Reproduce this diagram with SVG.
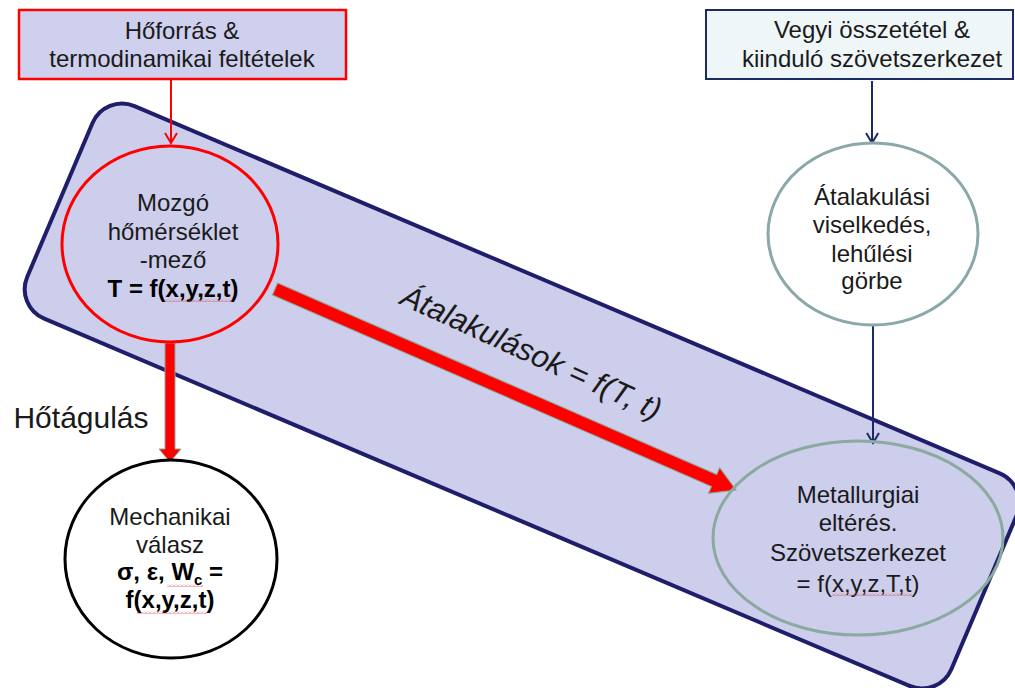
<svg xmlns="http://www.w3.org/2000/svg" width="1015" height="688" viewBox="0 0 1015 688">
<defs>
<style>
text{font-family:"Liberation Sans",Arial,sans-serif;fill:#1a1a1a;text-anchor:middle}
.t24{font-size:24px}
.b{font-weight:bold;fill:#000}
.thin{fill:none;stroke-width:2}
.red{stroke:#ff0000}
.navy{stroke:#1a2a66}
</style>
<marker id="vRed" markerWidth="14" markerHeight="14" refX="12" refY="7" orient="auto" markerUnits="userSpaceOnUse">
<path d="M2,1 L12,7 L2,13" fill="none" stroke="#ff0000" stroke-width="2"/>
</marker>
<marker id="vNavy" markerWidth="14" markerHeight="14" refX="12" refY="7" orient="auto" markerUnits="userSpaceOnUse">
<path d="M2,1 L12,7 L2,13" fill="none" stroke="#1a2a66" stroke-width="2"/>
</marker>
<pattern id="squig" width="4" height="3" patternUnits="userSpaceOnUse">
<path d="M0,2.5 L2,0.5 L4,2.5" fill="none" stroke="#e05050" stroke-width="0.8"/>
</pattern>
</defs>
<rect width="1015" height="688" fill="#ffffff"/>

<g id="band">
<rect x="-502" y="-115.5" width="1004" height="231" rx="32" transform="translate(522,396) rotate(23)" fill="#cdcdec" stroke="#1e1e6b" stroke-width="4"/>
</g>

<g id="connectors">
<line x1="171" y1="80" x2="171" y2="143" class="thin red" marker-end="url(#vRed)"/>
<line x1="872" y1="81" x2="872" y2="143" class="thin navy" marker-end="url(#vNavy)"/>
<line x1="873" y1="326" x2="873" y2="443" class="thin navy" marker-end="url(#vNavy)"/>
<polygon points="165,343 175,343 175,449 181,449 170,462 159,449 165,449" fill="#ff0000" stroke="#8aa89a" stroke-width="1"/>
<g transform="translate(275,289) rotate(23.56)">
<polygon points="0,-6.5 479,-6.5 479,-14 503,0 479,14 479,6.5 0,6.5" fill="#ff0000" stroke="#8aa89a" stroke-width="1"/>
</g>
<text x="81" y="428" style="font-size:30px">Hőtágulás</text>
<text x="0" y="0" transform="translate(527,362) rotate(24.5)" style="font-size:31px;font-style:italic">Átalakulások = f(T, t)</text>
</g>

<g id="hoforras">
<rect x="19" y="10" width="327" height="69" fill="#cfcfee" stroke="#ff0000" stroke-width="2.5"/>
<text x="182" y="39" class="t24">Hőforrás &amp;</text>
<text x="182" y="67" class="t24">termodinamikai feltételek</text>
</g>

<g id="vegyi">
<rect x="706" y="10" width="307" height="69" fill="#eef6f8" stroke="#1a2a66" stroke-width="2"/>
<text x="872" y="38" class="t24">Vegyi összetétel &amp;</text>
<text x="872" y="67" class="t24">kiinduló szövetszerkezet</text>
</g>

<g id="homerseklet">
<ellipse cx="170" cy="244" rx="108" ry="98" fill="none" stroke="#ff0000" stroke-width="3"/>
<text x="173" y="211" class="t24">Mozgó</text>
<text x="173" y="240" class="t24">hőmérséklet</text>
<text x="173" y="268" class="t24">-mező</text>
<text x="173" y="297" class="t24 b">T = f(x,y,z,t)</text>
<rect x="164" y="299" width="68" height="3" fill="url(#squig)"/>
</g>

<g id="atalakulasi">
<ellipse cx="873" cy="234" rx="105" ry="91" fill="#ffffff" stroke="#8aa8aa" stroke-width="3"/>
<text x="872" y="205" class="t24">Átalakulási</text>
<text x="872" y="233" class="t24">viselkedés,</text>
<text x="872" y="262" class="t24">lehűlési</text>
<text x="872" y="289" class="t24">görbe</text>
</g>

<g id="mechanikai">
<ellipse cx="171" cy="559" rx="106" ry="99" fill="#ffffff" stroke="#000000" stroke-width="3"/>
<text x="170" y="525" class="t24">Mechanikai</text>
<text x="170" y="553" class="t24">válasz</text>
<text x="170" y="580" class="t24 b">σ, ε, W<tspan style="font-size:15px" dy="5">c</tspan><tspan dy="-5"> =</tspan></text>
<text x="170" y="608" class="t24 b">f(x,y,z,t)</text>
<rect x="167" y="584" width="36" height="3" fill="url(#squig)"/>
<rect x="137" y="611" width="70" height="3" fill="url(#squig)"/>
</g>

<g id="metallurgiai">
<ellipse cx="858" cy="538" rx="145" ry="97" fill="none" stroke="#8aaaa0" stroke-width="3"/>
<text x="858" y="503" class="t24">Metallurgiai</text>
<text x="858" y="531" class="t24">eltérés.</text>
<text x="858" y="561" class="t24">Szövetszerkezet</text>
<text x="858" y="592" class="t24">= f(x,y,z,T,t)</text>
<rect x="832" y="593" width="80" height="3" fill="url(#squig)"/>
</g>
</svg>
